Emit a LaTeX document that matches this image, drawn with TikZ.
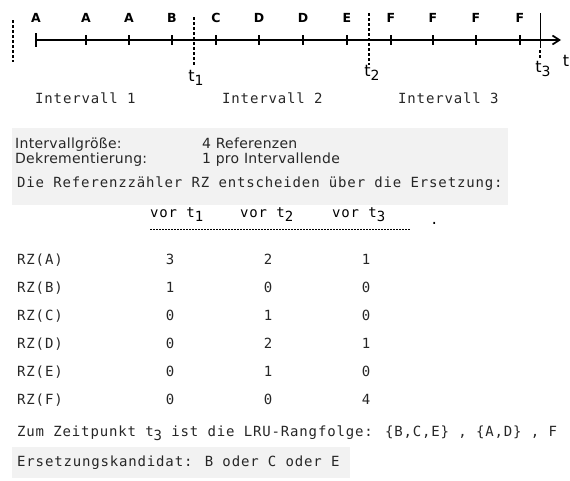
\documentclass[tikz,border=0pt]{standalone}
\usepackage{fontspec}
\newfontfamily\tw[LetterSpace=6]{DejaVu Sans Mono}
\newfontfamily\tp[LetterSpace=2]{DejaVu Sans}
\newfontfamily\lbl{DejaVu Sans}
\usetikzlibrary{arrows.meta}

\tikzset{
  txt/.style={font=\tw\fontsize{14}{14}\selectfont, anchor=base west, inner sep=0pt, text=black!85},
  param/.style={font=\tp\fontsize{14}{14}\selectfont, anchor=base west, inner sep=0pt, text=black!85},
  head/.style={font=\tw\fontsize{14}{14}\selectfont, anchor=base west, inner sep=0pt, text=black},
  num/.style={font=\tw\fontsize{14}{14}\selectfont, anchor=base, inner sep=0pt, text=black!85},
  ref/.style={font=\lbl\bfseries\fontsize{12.5}{12.5}\selectfont, anchor=base, inner sep=0pt},
  tlab/.style={font=\lbl\fontsize{16}{16}\selectfont, anchor=base, inner sep=0pt},
  axis/.style={line width=1.7pt},
  tick/.style={line width=1.5pt},
  cut/.style={line width=1.3pt, dash pattern=on 3pt off 2pt},
  strip/.style={fill=black!5, draw=none}
}

\newcommand{\sub}[1]{\raisebox{-0.55ex}{#1}}

\begin{document}
\begin{tikzpicture}[x=1pt,y=-1pt]
\useasboundingbox (0,0) rectangle (570,480);

% pasted paper strips
\fill[strip] (12,128) rectangle (508,205);
\fill[strip] (12,447) rectangle (350,478);

% time axis
\coordinate (a0) at (36,40);
\coordinate (aend) at (561,40);
\draw[axis, -{Straight Barb[length=7pt,width=9pt]}] (a0) -- (aend);
\draw[tick] (36,33) -- (36,47);

% reference ticks and page labels
\foreach \x/\p [count=\i] in {36/A,86/A,129/A,172/B,216/C,259/D,303/D,347/E,391/F,433/F,476/F,520/F}{
  \ifnum\i>1 \draw[tick] (\x,35) -- (\x,45); \fi
  \node[ref] (r\i) at (\x,22) {\p};
}

% interval boundaries
\draw[cut] (13,20) -- (13,62);
\draw[cut] (194,17) -- (194,65);
\draw[cut] (369,13) -- (369,65);
\draw[line width=0.6pt] (540,13) -- (540,48);
\draw[cut] (540,50) -- (540,58);

\node[tlab] (t1) at (196,81) {t\sub{\fontsize{14}{14}\selectfont 1}};
\node[tlab] (t2) at (372,76) {t\sub{\fontsize{14}{14}\selectfont 2}};
\node[tlab] (t3) at (543,72) {t\sub{\fontsize{14}{14}\selectfont 3}};
\node[tlab] (tax) at (566,66) {t};

\node[txt] (i1) at (35,103) {Intervall 1};
\node[txt] (i2) at (222,103) {Intervall 2};
\node[txt] (i3) at (398,103) {Intervall 3};

% parameters
\node[param] (g1) at (15,148) {Intervallgröße:};
\node[param] (g2) at (202,148) {4 Referenzen};
\node[param] (d1) at (15,163) {Dekrementierung:};
\node[param] (d2) at (202,163) {1 pro Intervallende};
\node[txt] (rz) at (17,187) {Die Referenzzähler RZ entscheiden über die Ersetzung:};

% counter table
\node[head] (h1) at (150,217) {vor t\sub{1}};
\node[head] (h2) at (240,217) {vor t\sub{2}};
\node[head] (h3) at (332,217) {vor t\sub{3}};
\node[head] (hdot) at (430,224) {.};
\draw[line width=0.9pt, dash pattern=on 2pt off 1pt] (h1.south west |- 0,229) -- (410,229);

\foreach \r/\a/\b/\c/\y in {A/3/2/1/264,B/1/0/0/292,C/0/1/0/320,D/0/2/1/348,E/0/1/0/376,F/0/0/4/404}{
  \node[txt] (row\r) at (17,\y) {RZ(\r)};
  \node[num] (v1\r) at (170,\y) {\a};
  \node[num] (v2\r) at (268,\y) {\b};
  \node[num] (v3\r) at (366,\y) {\c};
}

% conclusion
\node[txt] (lru) at (17,436) {Zum Zeitpunkt t\sub{3} ist die LRU-Rangfolge: \{B,C,E\} , \{A,D\} , F};
\node[txt] (cand) at (17,466) {Ersetzungskandidat: B oder C oder E};
\end{tikzpicture}
\end{document}
